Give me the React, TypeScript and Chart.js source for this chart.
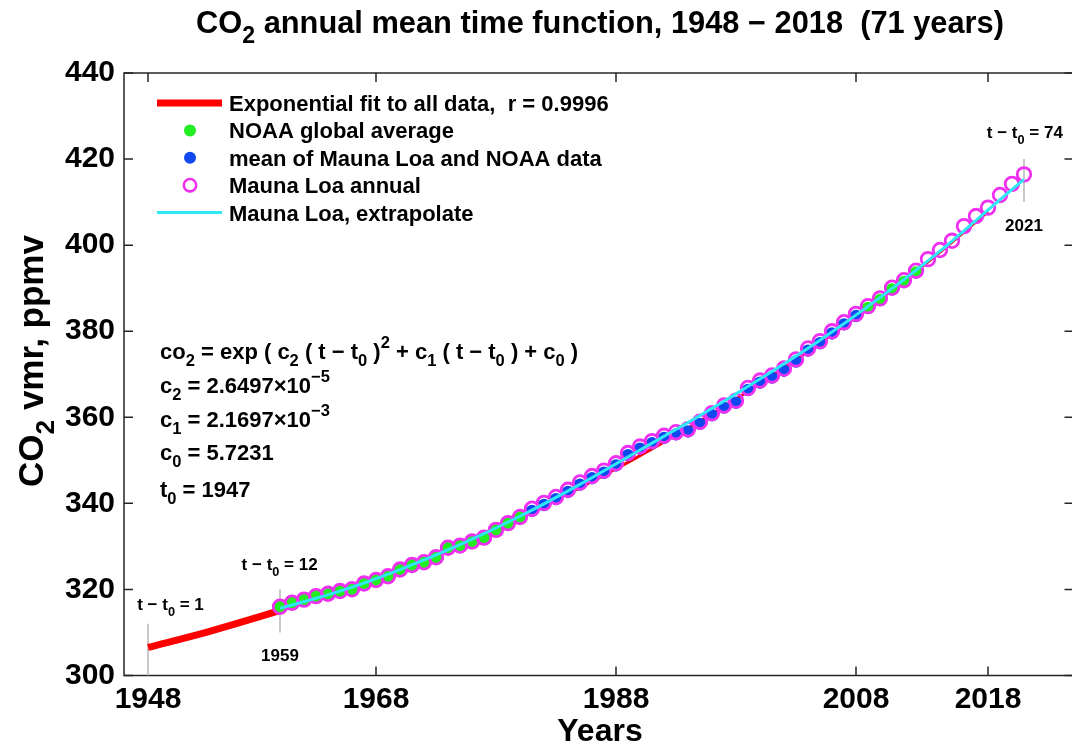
import { useEffect, useRef } from 'react';
import { Chart, registerables } from 'chart.js';

Chart.register(...registerables);

const FONT = '"Liberation Sans", Arial, Helvetica, sans-serif';

// Exponential fit, sampled along the curve (thick early part and thin part)
const fitYearsEarly = [1948, 1953, 1958, 1959];
const fitValuesEarly = [306.52, 310.15, 314.24, 315.12];
const fitYears = [1959, 1963, 1968, 1973, 1978, 1983, 1988, 1993, 1998, 2003, 2008, 2013, 2018];
const fitValues = [315.12, 318.81, 323.87, 329.45, 335.57, 342.25, 349.53, 357.44, 366.01, 375.29, 385.31, 396.12, 407.77];

// Mauna Loa annual means
const mlYears = [
  1959, 1960, 1961, 1962, 1963, 1964, 1965, 1966, 1967, 1968,
  1969, 1970, 1971, 1972, 1973, 1974, 1975, 1976, 1977, 1978,
  1979, 1980, 1981, 1982, 1983, 1984, 1985, 1986, 1987, 1988,
  1989, 1990, 1991, 1992, 1993, 1994, 1995, 1996, 1997, 1998,
  1999, 2000, 2001, 2002, 2003, 2004, 2005, 2006, 2007, 2008,
  2009, 2010, 2011, 2012, 2013, 2014, 2015, 2016, 2017, 2018,
  2019, 2020, 2021,
];
const mlValues = [
  315.98, 316.91, 317.64, 318.45, 318.99, 319.62, 320.04, 321.37, 322.18, 323.05,
  324.62, 325.68, 326.32, 327.46, 329.68, 330.19, 331.13, 332.03, 333.84, 335.41,
  336.84, 338.76, 340.12, 341.48, 343.15, 344.85, 346.35, 347.61, 349.31, 351.69,
  353.2, 354.45, 355.7, 356.54, 357.21, 358.96, 360.97, 362.74, 363.88, 366.84,
  368.54, 369.71, 371.32, 373.45, 375.98, 377.7, 379.98, 382.09, 384.02, 385.83,
  387.64, 390.1, 391.85, 394.06, 396.74, 398.87, 401.01, 404.41, 406.76, 408.72,
  411.66, 414.24, 416.45,
];

// NOAA global average
const noaaYears = [
  1959, 1960, 1961, 1962, 1963, 1964, 1965, 1966, 1967, 1968,
  1969, 1970, 1971, 1972, 1973, 1974, 1975, 1976, 1977, 1978, 1979,
  2008, 2009, 2010, 2011, 2012,
];
const noaaValues = [
  315.98, 316.91, 317.64, 318.45, 318.99, 319.62, 320.04, 321.37, 322.18, 323.05,
  324.62, 325.68, 326.32, 327.46, 329.68, 330.19, 331.13, 332.03, 333.84, 335.41, 336.84,
  385.43, 387.24, 389.7, 391.45, 393.66,
];

// Mean of Mauna Loa and NOAA
const meanYears = [
  1980, 1981, 1982, 1983, 1984, 1985, 1986, 1987, 1988, 1989,
  1990, 1991, 1992, 1993, 1994, 1995, 1996, 1997, 1998, 1999,
  2000, 2001, 2002, 2003, 2004, 2005, 2006, 2007,
];
const meanValues = [
  338.26, 339.62, 340.98, 342.65, 344.35, 345.85, 347.11, 348.81, 351.19, 352.7,
  353.95, 355.2, 356.04, 356.71, 358.46, 360.47, 362.24, 363.38, 366.34, 368.04,
  369.21, 370.82, 372.95, 375.48, 377.2, 379.48, 381.59, 383.52,
];

// Mauna Loa smooth extrapolation
const extYears = [1959, 1964, 1969, 1974, 1979, 1984, 1989, 1994, 1999, 2004, 2009, 2014, 2019, 2021];
const extValues = [315.6, 319.6, 324.6, 330.4, 337.0, 344.4, 352.4, 360.4, 368.9, 377.9, 387.8, 398.6, 410.6, 415.3];

// Light vertical markers at t - t0 = 1, 12, 74
const markerYears = [1948, 1959, 2021];
const markerLow = [300, 310, 410];
const markerHigh = [312, 320, 420];

// Axes
const xTickValues = [1948, 1967, 1987, 2007, 2018];
const xTickLabels = ['1948', '1968', '1988', '2008', '2018'];
const yMin = 300;
const yMax = 440;
const yStep = 20;
const xMin = 1946;
const xMax = 2025;

const RED = '#ff0000';
const GREEN = '#22ee22';
const BLUE = '#1048f0';
const MAGENTA = '#f030f0';
const CYAN = '#2ee8f5';
const GRAY = '#c8c8c8';

const pts = (xs: number[], ys: number[]) => xs.map((x, i) => ({ x, y: ys[i] }));

type Seg = [string, number?];

function font(size: number) {
  return `bold ${size}px ${FONT}`;
}

function drawRich(ctx: CanvasRenderingContext2D, segs: Seg[], x: number, y: number, size: number, align: 'left' | 'center') {
  const small = size * 0.75;
  let w = 0;
  for (const [t, k] of segs) {
    ctx.font = font(k ? small : size);
    w += ctx.measureText(t).width;
  }
  let cx = align === 'center' ? x - w / 2 : x;
  ctx.textAlign = 'left';
  ctx.textBaseline = 'alphabetic';
  for (const [t, k] of segs) {
    ctx.font = font(k ? small : size);
    const dy = k === -1 ? size * 0.32 : k === 1 ? -size * 0.5 : 0;
    ctx.fillText(t, cx, y + dy);
    cx += ctx.measureText(t).width;
  }
}

const framePlugin = {
  id: 'frame',
  beforeDatasetsDraw(chart: any) {
    const { ctx, chartArea: a, scales } = chart;
    const x = scales.x;
    const y = scales.y;
    ctx.save();
    ctx.strokeStyle = '#262626';
    ctx.lineWidth = 1.5;
    // the right-hand side of the box sits just past the canvas edge
    ctx.strokeRect(a.left, a.top, a.right + 1.5 - a.left, a.bottom - a.top);
    const L = 9;
    ctx.beginPath();
    for (const v of xTickValues) {
      const px = x.getPixelForValue(v);
      ctx.moveTo(px, a.bottom);
      ctx.lineTo(px, a.bottom - L);
      ctx.moveTo(px, a.top);
      ctx.lineTo(px, a.top + L);
    }
    for (const t of y.ticks) {
      const py = y.getPixelForValue(t.value);
      ctx.moveTo(a.left, py);
      ctx.lineTo(a.left + L, py);
      ctx.moveTo(a.right + 1.5, py);
      ctx.lineTo(a.right + 1.5 - L, py);
    }
    ctx.stroke();
    ctx.restore();
  },
};

const textPlugin = {
  id: 'texts',
  afterDatasetsDraw(chart: any) {
    const { ctx, chartArea: a, scales } = chart;
    const x = scales.x;
    const y = scales.y;
    ctx.save();
    ctx.fillStyle = '#000';

    // legend
    const lx0 = a.left + 33;
    const lx1 = a.left + 98;
    const mx = a.left + 66;
    const rowY = (i: number) => a.top + 30 + i * 27.4;
    const labels = [
      'Exponential fit to all data,  r = 0.9996',
      'NOAA global average',
      'mean of Mauna Loa and NOAA data',
      'Mauna Loa annual',
      'Mauna Loa, extrapolate',
    ];
    ctx.lineCap = 'butt';
    ctx.strokeStyle = RED;
    ctx.lineWidth = 7;
    ctx.beginPath();
    ctx.moveTo(lx0, rowY(0));
    ctx.lineTo(lx1, rowY(0));
    ctx.stroke();
    ctx.fillStyle = GREEN;
    ctx.beginPath();
    ctx.arc(mx, rowY(1), 6, 0, Math.PI * 2);
    ctx.fill();
    ctx.fillStyle = BLUE;
    ctx.beginPath();
    ctx.arc(mx, rowY(2), 6, 0, Math.PI * 2);
    ctx.fill();
    ctx.strokeStyle = MAGENTA;
    ctx.lineWidth = 2.6;
    ctx.beginPath();
    ctx.arc(mx, rowY(3), 6.2, 0, Math.PI * 2);
    ctx.stroke();
    ctx.strokeStyle = CYAN;
    ctx.lineWidth = 3;
    ctx.beginPath();
    ctx.moveTo(lx0, rowY(4));
    ctx.lineTo(lx1, rowY(4));
    ctx.stroke();
    ctx.fillStyle = '#000';
    labels.forEach((s, i) => drawRich(ctx, [[s]], a.left + 105, rowY(i) + 8, 22, 'left'));

    // fit equation
    const ex = a.left + 36;
    const eq: Seg[][] = [
      [['co'], ['2', -1], [' = exp ( c'], ['2', -1], [' ( t − t'], ['0', -1], [' )'], ['2', 1], [' + c'], ['1', -1], [' ( t − t'], ['0', -1], [' ) + c'], ['0', -1], [' )']],
      [['c'], ['2', -1], [' = 2.6497×10'], ['−5', 1]],
      [['c'], ['1', -1], [' = 2.1697×10'], ['−3', 1]],
      [['c'], ['0', -1], [' = 5.7231']],
      [['t'], ['0', -1], [' = 1947']],
    ];
    const eqBase = [359, 393, 427, 460, 497];
    eq.forEach((segs, i) => drawRich(ctx, segs, ex, eqBase[i], 22, 'left'));

    // annotations at t - t0 markers
    drawRich(ctx, [['t − t'], ['0', -1], [' = 1']], x.getPixelForValue(1947.1), y.getPixelForValue(315.2), 17, 'left');
    drawRich(ctx, [['t − t'], ['0', -1], [' = 12']], x.getPixelForValue(1955.8), y.getPixelForValue(324.5), 17, 'left');
    drawRich(ctx, [['1959']], x.getPixelForValue(1959), y.getPixelForValue(303.4), 17, 'center');
    drawRich(ctx, [['t − t'], ['0', -1], [' = 74']], x.getPixelForValue(2017.9), y.getPixelForValue(424.8), 17, 'left');
    drawRich(ctx, [['2021']], x.getPixelForValue(2021), y.getPixelForValue(403.3), 17, 'center');

    // titles
    drawRich(ctx, [['CO'], ['2', -1], [' annual mean time function, 1948 − 2018  (71 years)']], 600, 33, 30.8, 'center');
    drawRich(ctx, [['Years']], 600, 741, 32, 'center');
    ctx.translate(43, 361);
    ctx.rotate(-Math.PI / 2);
    drawRich(ctx, [['CO'], ['2', -1], [' vmr, ppmv']], 0, 0, 35, 'center');
    ctx.restore();
  },
};

export default function App() {
  const ref = useRef<HTMLCanvasElement | null>(null);

  useEffect(() => {
    document.body.style.margin = '0';
    const canvas = ref.current;
    if (!canvas) return;
    const tickFont = { family: FONT, size: 30, weight: 'bold' as const, lineHeight: 1 };
    const markerSets = markerYears.map((yr, i) => ({
      data: [{ x: yr, y: markerLow[i] }, { x: yr, y: markerHigh[i] }],
      showLine: true,
      borderColor: GRAY,
      borderWidth: 2,
      pointRadius: 0,
      order: 10,
    }));
    const chart = new Chart(canvas, {
      type: 'scatter',
      data: {
        datasets: [
          ...markerSets,
          {
            label: 'Exponential fit to all data',
            data: pts(fitYearsEarly, fitValuesEarly),
            showLine: true,
            borderColor: RED,
            borderWidth: 7,
            pointRadius: 0,
            cubicInterpolationMode: 'monotone',
            order: 9,
          },
          {
            label: 'Exponential fit',
            data: pts(fitYears, fitValues),
            showLine: true,
            borderColor: RED,
            borderWidth: 3,
            pointRadius: 0,
            cubicInterpolationMode: 'monotone',
            order: 8,
          },
          {
            label: 'NOAA global average',
            data: pts(noaaYears, noaaValues),
            pointRadius: 6.2,
            pointBackgroundColor: GREEN,
            pointBorderWidth: 0,
            order: 7,
          },
          {
            label: 'mean of Mauna Loa and NOAA data',
            data: pts(meanYears, meanValues),
            pointRadius: 6.2,
            pointBackgroundColor: BLUE,
            pointBorderWidth: 0,
            order: 6,
          },
          {
            label: 'Mauna Loa annual',
            data: pts(mlYears, mlValues),
            pointRadius: 6.8,
            pointBackgroundColor: 'rgba(0,0,0,0)',
            pointBorderColor: MAGENTA,
            pointBorderWidth: 2.8,
            order: 5,
          },
          {
            label: 'Mauna Loa, extrapolate',
            data: pts(extYears, extValues),
            showLine: true,
            borderColor: CYAN,
            borderWidth: 3,
            pointRadius: 0,
            cubicInterpolationMode: 'monotone',
            order: 4,
          },
        ],
      } as any,
      options: {
        responsive: false,
        animation: false,
        devicePixelRatio: 1,
        events: [],
        layout: { autoPadding: false, padding: { top: 73, left: 0, right: 0, bottom: 0 } },
        plugins: {
          legend: { display: false },
          title: { display: false },
          tooltip: { enabled: false },
        },
        scales: {
          x: {
            type: 'linear',
            min: xMin,
            max: xMax,
            grid: { display: false, drawTicks: false },
            border: { display: false },
            afterBuildTicks: (s: any) => {
              s.ticks = xTickValues.map((v) => ({ value: v }));
            },
            afterFit: (s: any) => {
              s.height = 71.5;
              s.paddingLeft = 0;
              s.paddingRight = 0;
            },
            ticks: {
              autoSkip: false,
              maxRotation: 0,
              minRotation: 0,
              padding: 9,
              color: '#000',
              font: tickFont,
              callback: (_v: any, i: number) => xTickLabels[i],
            },
          },
          y: {
            type: 'linear',
            min: yMin,
            max: yMax,
            grid: { display: false, drawTicks: false },
            border: { display: false },
            afterFit: (s: any) => {
              s.width = 124;
              s.paddingTop = 0;
              s.paddingBottom = 0;
            },
            ticks: {
              stepSize: yStep,
              padding: 9,
              color: '#000',
              font: tickFont,
            },
          },
        },
      } as any,
      plugins: [framePlugin, textPlugin],
    });
    return () => chart.destroy();
  }, []);

  return (
    <div style={{ width: 1072, height: 747 }}>
      <canvas ref={ref} width={1072} height={747} style={{ display: 'block' }} />
    </div>
  );
}
